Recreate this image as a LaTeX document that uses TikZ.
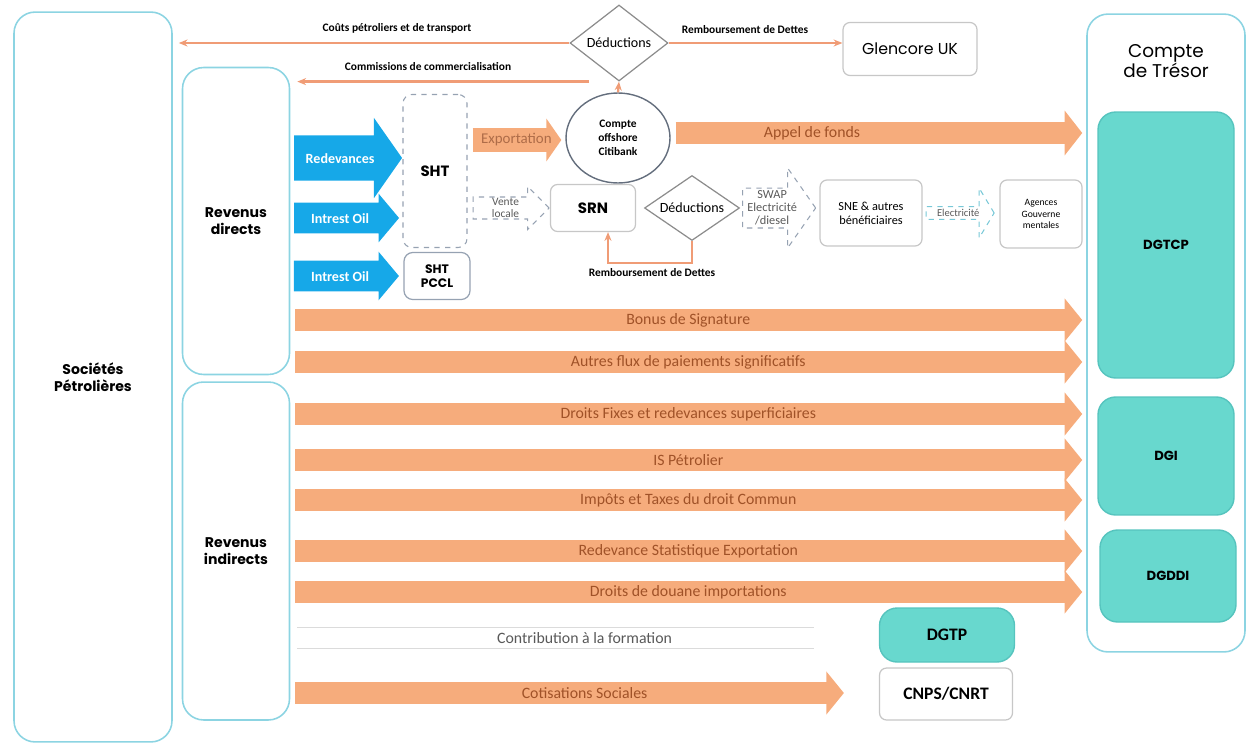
\documentclass[tikz,border=0pt]{standalone}
\usepackage{fontspec}
\setmainfont{Carlito}
\newfontfamily\headfont{Poppins}
\usetikzlibrary{shapes.geometric,shapes.arrows,arrows.meta,positioning}

\definecolor{boxcyan}{RGB}{140,212,226}
\definecolor{tealfill}{RGB}{104,216,206}
\definecolor{tealline}{RGB}{86,196,190}
\definecolor{flowfill}{RGB}{246,172,124}
\definecolor{flowtext}{RGB}{160,82,40}
\definecolor{lineorange}{RGB}{240,156,118}
\definecolor{oilblue}{RGB}{22,168,232}
\definecolor{dashgray}{RGB}{150,162,178}
\definecolor{lightdash}{RGB}{120,200,215}
\definecolor{slate}{RGB}{100,110,125}

\begin{document}
\begin{tikzpicture}[x=0.02cm,y=-0.02cm,
    bigbox/.style={draw=boxcyan, line width=0.9pt, rounded corners=12pt, inner sep=0pt, align=center,
      font=\headfont\bfseries\fontsize{8}{9.5}\selectfont},
    tealbox/.style={draw=tealline, fill=tealfill, line width=0.8pt, rounded corners=10pt, inner sep=0pt,
      font=\headfont\bfseries\fontsize{7.5}{9}\selectfont},
    whitebox/.style={draw=black!22, fill=white, line width=0.7pt, rounded corners=4pt, inner sep=0pt, align=center},
    decision/.style={diamond, aspect=1.4, draw=black!45, line width=0.7pt, inner sep=0pt,
      font=\fontsize{8}{9}\selectfont},
    flow/.style={draw=flowfill, line width=12pt, -{Triangle[width=24pt,length=10pt]},
      shorten <=0.1cm, shorten >=0.08cm},
    flowlabel/.style={text=flowtext, font=\fontsize{9}{10}\selectfont},
    thinflow/.style={draw=lineorange, line width=1.3pt, -{Stealth[length=5pt,width=4pt]}},
    smalllabel/.style={font=\bfseries\fontsize{6.5}{7.5}\selectfont},
    oilarrow/.style={single arrow, fill=oilblue, anchor=tip, inner xsep=1pt, text height=6pt, text depth=0pt,
      text=white, font=\bfseries\fontsize{8}{9}\selectfont},
    dasharrow/.style={single arrow, draw=dashgray, dashed, line width=0.6pt, anchor=tail, inner sep=0pt,
      align=center, text=black!65, font=\fontsize{6.5}{6.5}\selectfont},
  ]
  \useasboundingbox (0,0) rectangle (1247,744);

  % left and right columns
  \node[bigbox, minimum width=3.16cm, minimum height=14.6cm] (soc) at (93,377) {Sociétés\\Pétrolières};
  \node[bigbox, minimum width=2.14cm, minimum height=6.14cm] (revdir) at (236,221) {Revenus\\directs};
  \node[bigbox, minimum width=2.14cm, minimum height=6.76cm] (revind) at (236,551) {Revenus\\indirects};
  \node[bigbox, minimum width=3.16cm, minimum height=12.76cm] (tresor) at (1166,333) {};
  \node[font=\headfont\fontsize{10.5}{11.5}\selectfont, align=center, below=0.5cm of tresor.north] (tresortxt) {Compte\\de Trésor};
  \node[tealbox, minimum width=2.72cm, minimum height=5.32cm] (dgtcp) at (1166,245) {DGTCP};
  \node[tealbox, minimum width=2.72cm, minimum height=2.36cm] (dgi) at (1166,456) {DGI};
  \node[tealbox, minimum width=2.72cm, minimum height=1.84cm] (dgddi) at (1168,576) {DGDDI};
  \node[tealbox, minimum width=2.7cm, minimum height=1.08cm, font=\bfseries\fontsize{10}{11}\selectfont] (dgtp) at (947,635) {DGTP};
  \node[whitebox, minimum width=2.66cm, minimum height=1.04cm, font=\bfseries\fontsize{10}{11}\selectfont] (cnps) at (946,694) {CNPS/CNRT};

  % top part
  \node[decision, minimum width=1.96cm, minimum height=1.52cm] (ded1) at (619,43) {Déductions};
  \node[whitebox, minimum width=2.68cm, minimum height=1.06cm, font=\headfont\fontsize{9}{10}\selectfont] (glencore) at (910,49) {Glencore UK};
  \node[ellipse, draw=slate, line width=0.8pt, minimum width=2.08cm, minimum height=1.8cm, inner sep=0pt,
    align=center, font=\bfseries\fontsize{6.5}{8}\selectfont] (offshore) at (618,138) {Compte\\offshore\\Citibank};

  % SHT, SRN and the middle row
  \node[draw=dashgray, dashed, line width=0.6pt, rounded corners=5pt, minimum width=1.28cm, minimum height=3.06cm,
    font=\headfont\bfseries\fontsize{8.5}{10}\selectfont] (sht) at (435,171) {SHT};
  \node[draw=dashgray, line width=0.7pt, rounded corners=5pt, minimum width=1.32cm, minimum height=0.94cm, inner sep=0pt,
    align=center, font=\headfont\bfseries\fontsize{7}{8}\selectfont] (shtp) at (437,276) {SHT\\PCCL};
  \node[whitebox, minimum width=1.7cm, minimum height=0.94cm, font=\headfont\bfseries\fontsize{8.5}{10}\selectfont] (srn) at (593,208) {SRN};
  \node[decision, minimum width=1.9cm, minimum height=1.3cm] (ded2) at (692,208) {Déductions};
  \node[whitebox, minimum width=2.04cm, minimum height=1.32cm, font=\fontsize{7}{8}\selectfont] (sne) at (871,213) {SNE \& autres\\bénéficiaires};
  \node[whitebox, minimum width=1.64cm, minimum height=1.36cm, font=\fontsize{5.5}{6.5}\selectfont] (agences) at (1041,214) {Agences\\Gouverne\\mentales};

  % blue arrows
  \node[oilarrow, inner ysep=9.7pt, minimum height=2.16cm, single arrow head extend=0.35cm,
    single arrow tip angle=110] (redev) at (sht.west |- 0,158) {Redevances};
  \node[oilarrow, inner ysep=5.5pt, minimum height=2.1cm, single arrow head extend=0.18cm,
    single arrow tip angle=100] (oil1) at ([xshift=-0.06cm]sht.west |- 0,218) {Intrest Oil};
  \node[oilarrow, inner ysep=5.5pt, minimum height=2.1cm, single arrow head extend=0.18cm,
    single arrow tip angle=100] (oil2) at ([xshift=-0.08cm]shtp.west) {Intrest Oil};

  % dashed arrows
  \node[dasharrow, minimum height=1.52cm, minimum width=0.86cm, single arrow head extend=0.19cm]
    (vente) at ([xshift=0.1cm]sht.east |- srn.west) {Vente\\locale};
  \node[dasharrow, minimum height=1.46cm, minimum width=1.6cm, single arrow head extend=0.36cm,
    single arrow tip angle=110, font=\fontsize{7}{7.5}\selectfont] (swap) at ([xshift=0.04cm]ded2.east) {SWAP\\Electricité\\/diesel};
  \node[dasharrow, draw=lightdash, minimum height=1.36cm, minimum width=1.0cm, single arrow head extend=0.25cm,
    single arrow tip angle=118, font=\fontsize{6}{7}\selectfont] (elec) at ([xshift=0.06cm]sne.east) {Electricité};

  % thin connectors
  \draw[thinflow, shorten >=0.12cm] (ded1.west) -- (soc.east |- ded1.west);
  \node[smalllabel] (coutstxt) at (397,28) {Coûts pétroliers et de transport};
  \draw[thinflow, shorten >=0.14cm] ([xshift=-0.6cm]ded1.south) -- (revdir.east |- ded1.south);
  \node[smalllabel] (commtxt) at (428,67) {Commissions de commercialisation};
  \draw[thinflow] (offshore.north) -- (ded1.south);
  \draw[thinflow] (ded1.east) -- (ded1.east -| glencore.west);
  \node[smalllabel] (rembtxt1) at (745,30) {Remboursement de Dettes};
  \draw[thinflow] (ded2.south) -- ++(0,22) -| ([xshift=0.3cm]srn.south);
  \node[smalllabel] (rembtxt2) at (652,273) {Remboursement de Dettes};

  % orange flows
  \draw[flow, line width=14pt, -{Triangle[width=24pt,length=8.5pt]}] (sht.east |- 0,140) -- (offshore.west |- 0,140)
    node[midway, text=flowtext!85, font=\fontsize{8.5}{10}\selectfont] {Exportation};
  \draw[flow, line width=13pt, -{Triangle[width=25pt,length=10pt]}] (offshore.east |- 0,133) -- (tresor.west |- 0,133)
    node[pos=0.34, flowlabel] {Appel de fonds};
  \draw[flow] (revdir.east |- 0,320) -- (tresor.west |- 0,320) node[midway, flowlabel] {Bonus de Signature};
  \draw[flow] (revdir.east |- 0,362) -- (tresor.west |- 0,362) node[midway, flowlabel] {Autres flux de paiements significatifs};
  \draw[flow] (revind.east |- 0,414) -- (tresor.west |- 0,414) node[midway, flowlabel] {Droits Fixes et redevances superficiaires};
  \draw[flow] (revind.east |- 0,460) -- (tresor.west |- 0,460) node[midway, flowlabel] {IS Pétrolier};
  \draw[flow] (revind.east |- 0,500) -- (tresor.west |- 0,500) node[midway, flowlabel] {Impôts et Taxes du droit Commun};
  \draw[flow] (revind.east |- 0,551) -- (tresor.west |- 0,551) node[midway, flowlabel] {Redevance Statistique Exportation};
  \draw[flow] (revind.east |- 0,592) -- (tresor.west |- 0,592) node[midway, flowlabel] {Droits de douane importations};
  \draw[draw=black!14, line width=0.6pt, double=white, double distance=0.4cm, shorten <=0.14cm, shorten >=1.3cm]
    (revind.east |- 0,638) -- (dgtp.west |- 0,638) node[midway, text=black!65, font=\fontsize{9}{10}\selectfont] {Contribution à la formation};
  \draw[flow, shorten >=0.7cm] (revind.east |- 0,693) -- (cnps.west |- 0,693) node[midway, flowlabel] {Cotisations Sociales};
\end{tikzpicture}
\end{document}
